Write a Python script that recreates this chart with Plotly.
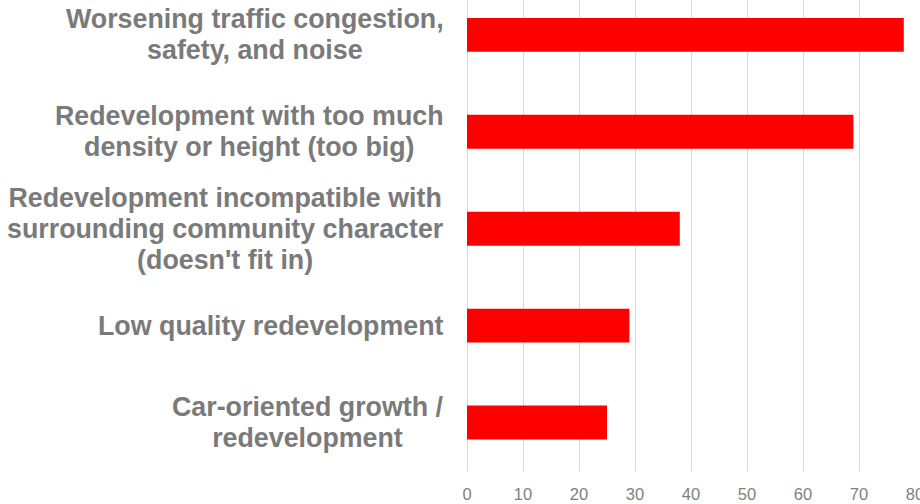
import plotly.graph_objects as go

categories = [
    "Worsening traffic congestion,<br>safety, and noise",
    "Redevelopment with too much<br>density or height (too big)",
    "Redevelopment incompatible with<br>surrounding community character<br>(doesn't fit in)",
    "Low quality redevelopment",
    "Car-oriented growth /<br>redevelopment",
]
values = [78, 69, 38, 29, 25]
x_ticks = [0, 10, 20, 30, 40, 50, 60, 70, 80]

LABEL_COLOR = "#7a7a7a"
GLYPH_PX = 26.8

fig = go.Figure()
fig.add_trace(go.Bar(
    y=categories,
    x=values,
    orientation="h",
    marker=dict(color="#ff0000", line=dict(width=0)),
    width=0.35,
    hoverinfo="x+y",
))

for cat in categories:
    lines = cat.split("<br>")
    txt = "<br>".join(f"<span style='font-size:{GLYPH_PX}px'>{ln}</span>" for ln in lines)
    fig.add_annotation(
        x=0, xref="paper", xanchor="right", xshift=-21,
        y=cat, yref="y", yanchor="middle",
        text=txt, showarrow=False, align="center",
        font=dict(family="Liberation Sans, Arial, sans-serif", size=23.8,
                  color=LABEL_COLOR, weight="bold"),
    )

fig.update_layout(
    width=920, height=504,
    margin=dict(l=467, r=5, t=0, b=33, autoexpand=False),
    plot_bgcolor="white", paper_bgcolor="white",
    showlegend=False,
    bargap=0.65,
    font=dict(family="Liberation Sans, Arial, sans-serif"),
)
fig.update_xaxes(
    range=[0, 80], tickvals=x_ticks, ticktext=[str(t) for t in x_ticks],
    showgrid=True, gridcolor="#d9d9d9", gridwidth=1,
    zeroline=True, zerolinecolor="#d9d9d9", zerolinewidth=1,
    showline=False, ticks="", automargin=False,
    tickfont=dict(size=16.5, color="#808080", family="Liberation Sans, Arial, sans-serif"),
    ticklabelstandoff=11, ticklabeloverflow="allow",
)
fig.update_yaxes(
    type="category", categoryorder="array", categoryarray=categories,
    range=[4.5, -0.36], showticklabels=False, showgrid=False,
    zeroline=False, showline=False, ticks="", automargin=False,
)

fig.write_html(
    "out.html",
    config={"displayModeBar": False},
    post_script="document.body.style.margin='0';document.body.style.padding='0';",
)
